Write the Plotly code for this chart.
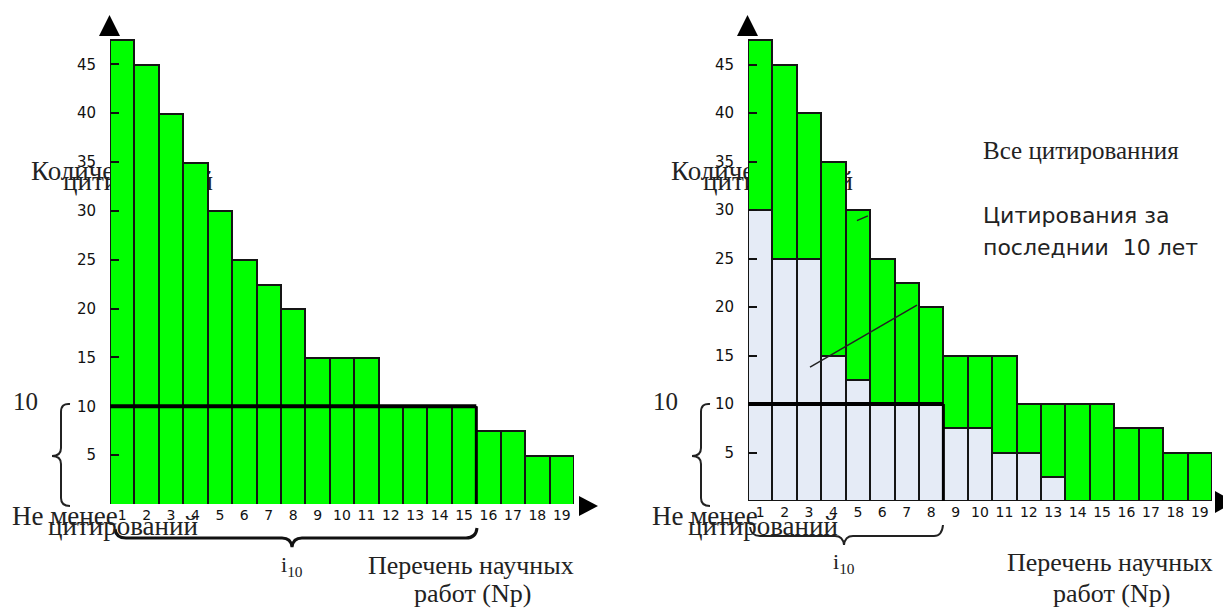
import plotly.graph_objects as go

# page body adds an 8 px margin; the figure is sized so that it ends exactly at the window edge
OFF = 8
W, H = 1231, 610
FW, FH = W - OFF, H - OFF

# ---------------- data ----------------
works = list(range(1, 20))
tick_labels = [str(i) for i in works]
all_citations = [47.5, 45, 40, 35, 30, 25, 22.5, 20, 15, 15, 15, 10, 10, 10, 10, 7.5, 7.5, 5, 5]
recent_citations = [30, 25, 25, 15, 12.5, 10, 10, 10, 7.5, 7.5, 5, 5, 2.5, 0, 0, 0, 0, 0, 0]
older_citations = [a - r for a, r in zip(all_citations, recent_citations)]
y_ticks = [5, 10, 15, 20, 25, 30, 35, 40, 45]
threshold = 10

h_all = sum(1 for v in all_citations if v >= threshold)
h_recent = sum(1 for v in recent_citations if v >= threshold)

GREEN = "#00FF00"
LIGHT = "#E5EBF6"
EDGE = "#151515"
SERIF = "Liberation Serif"
SANS = "DejaVu Sans"


def px(x):
    return (x - OFF) / FW


def py(y):
    return 1 - (y - OFF) / FH


def path(cmds):
    out = []
    for c in cmds:
        if isinstance(c, str):
            out.append(c)
        else:
            out.append(f"{px(c[0]):.5f},{py(c[1]):.5f}")
    return " ".join(out)


fig = go.Figure()

bar_line = dict(color=EDGE, width=2)
fig.add_trace(go.Bar(x=works, y=all_citations, width=1, marker=dict(color=GREEN, line=bar_line),
                     xaxis="x", yaxis="y", showlegend=False, hoverinfo="skip"))
fig.add_trace(go.Bar(x=works, y=recent_citations, width=1, marker=dict(color=LIGHT, line=bar_line),
                     xaxis="x2", yaxis="y2", showlegend=False, hoverinfo="skip"))
fig.add_trace(go.Bar(x=works, y=older_citations, width=1, marker=dict(color=GREEN, line=bar_line),
                     xaxis="x2", yaxis="y2", showlegend=False, hoverinfo="skip"))

xtick_font = dict(family=SANS, size=14, color="#111")
ytick_font = dict(family=SANS, size=15, color="#111")
axis_x = dict(range=[0.5, 19.5], tickmode="array", tickvals=works, ticktext=tick_labels,
              showgrid=False, zeroline=False, showline=False, ticks="", tickfont=xtick_font,
              ticklabelstandoff=1, fixedrange=True)
axis_y = dict(range=[0, 50], tickmode="array", tickvals=y_ticks, ticks="inside", ticklen=9,
              tickwidth=1.5, tickcolor="#111", showgrid=False, zeroline=False, showline=False,
              tickfont=ytick_font, ticklabelstandoff=13, fixedrange=True)

fig.update_layout(
    width=FW, height=FH, autosize=False,
    margin=dict(l=0, r=0, t=0, b=0),
    paper_bgcolor="white", plot_bgcolor="white",
    barmode="stack", bargap=0,
    xaxis=dict(domain=[px(110), px(574)], anchor="y", **axis_x),
    yaxis=dict(domain=[py(504), py(15.5)], anchor="x", **axis_y),
    xaxis2=dict(domain=[px(748), px(1212)], anchor="y2", **axis_x),
    yaxis2=dict(domain=[py(501), py(16)], anchor="x2", **axis_y),
)

shapes = []
# threshold (h-index) lines
for xr, yr, h in (("x", "y", h_all), ("x2", "y2", h_recent)):
    shapes.append(dict(type="line", xref=xr, yref=yr, x0=0.5, x1=h + 0.5, y0=threshold, y1=threshold,
                       line=dict(color="black", width=4)))
    shapes.append(dict(type="line", xref=xr, yref=yr, x0=h + 0.5, x1=h + 0.5, y0=0, y1=threshold,
                       line=dict(color="black", width=3)))

# axis arrows
for ax in (0, 638):
    shapes.append(dict(type="path", xref="paper", yref="paper", fillcolor="black", line=dict(width=0),
                       path=path(["M", (99 + ax, 36), "L", (120 + ax, 36), "L", (109.5 + ax, 15), "Z"])))
shapes.append(dict(type="path", xref="paper", yref="paper", fillcolor="black", line=dict(width=0),
                   path=path(["M", (579, 496), "L", (579, 516), "L", (598, 506), "Z"])))
shapes.append(dict(type="path", xref="paper", yref="paper", fillcolor="black", line=dict(width=0),
                   path=path(["M", (1215, 491), "L", (1215, 513), "L", (1235, 502), "Z"])))

# vertical braces
for ax in (0, 640):
    shapes.append(dict(type="path", xref="paper", yref="paper", line=dict(color="#222", width=2),
                       path=path(["M", (70 + ax, 404), "Q", (61 + ax, 403), (61 + ax, 412),
                                  "L", (61 + ax, 448), "Q", (61 + ax, 456), (52 + ax, 456),
                                  "Q", (61 + ax, 456), (61 + ax, 464),
                                  "L", (61 + ax, 498), "Q", (61 + ax, 506), (70 + ax, 506)])))

# horizontal braces under the x axis
shapes.append(dict(type="path", xref="paper", yref="paper", line=dict(color="#111", width=3),
                   path=path(["M", (115, 529), "Q", (116, 538), (126, 538), "L", (282, 538),
                              "Q", (291, 538), (292, 547), "Q", (293, 538), (302, 538),
                              "L", (466, 538), "Q", (476, 538), (477, 528)])))
shapes.append(dict(type="path", xref="paper", yref="paper", line=dict(color="#222", width=2),
                   path=path(["M", (750, 527), "Q", (751, 536), (760, 536), "L", (835, 536),
                              "Q", (843, 536), (844, 545), "Q", (845, 536), (853, 536),
                              "L", (934, 536), "Q", (942, 536), (943, 525)])))

# leader lines on the right chart
shapes.append(dict(type="line", xref="x2", yref="y2", x0=3.04, y0=13.8, x1=7.42, y1=20.2,
                   line=dict(color="#222", width=1.5)))
shapes.append(dict(type="line", xref="x2", yref="y2", x0=4.96, y0=28.9, x1=5.41, y1=29.4,
                   line=dict(color="#222", width=1.5)))

# y-axis title text lying underneath the bars
for ax in (0, 640):
    for txt, x0, ymid in (("Количество", 28, 168), ("цитирований", 60, 178)):
        shapes.append(dict(type="rect", xref="paper", yref="paper", layer="below",
                           x0=px(x0 + ax), x1=px(x0 + ax + 200), y0=py(ymid + 12), y1=py(ymid - 12),
                           line=dict(width=0), fillcolor="rgba(0,0,0,0)",
                           label=dict(text=txt, textposition="middle left", padding=0,
                                      font=dict(family=SERIF, size=27, color="#222"))))

fig.update_layout(shapes=shapes)

ann = []


def add_text(text, x, y, size, family, xanchor="left", yanchor="middle", align="left"):
    ann.append(dict(text=text, x=px(x), y=py(y), xref="paper", yref="paper", showarrow=False,
                    xanchor=xanchor, yanchor=yanchor, align=align,
                    font=dict(family=family, size=size, color="#222")))


for ax in (0, 640):
    add_text("10", 11 + ax, 401, 25, SERIF)
    add_text("Не менее", 10 + ax, 516, 27, SERIF)
    add_text("цитирований", 46 + ax, 526, 27, SERIF)

add_text("i<sub>10</sub>", 292, 566, 22, SERIF, xanchor="center")
add_text("i<sub>10</sub>", 844, 563, 22, SERIF, xanchor="center")
add_text("Перечень научных", 471, 565, 26, SERIF, xanchor="center")
add_text("работ (Np)", 472, 593, 26, SERIF, xanchor="center")
add_text("Перечень научных", 1110, 562, 26, SERIF, xanchor="center")
add_text("работ (Np)", 1111, 593, 26, SERIF, xanchor="center")
add_text("Все цитированния", 981, 150, 25, SERIF)
add_text("Цитирования за", 981, 215, 22, SANS)
add_text("последнии  10 лет", 981, 247, 22, SANS)

fig.update_layout(annotations=ann)

fig.write_html("out.html")
